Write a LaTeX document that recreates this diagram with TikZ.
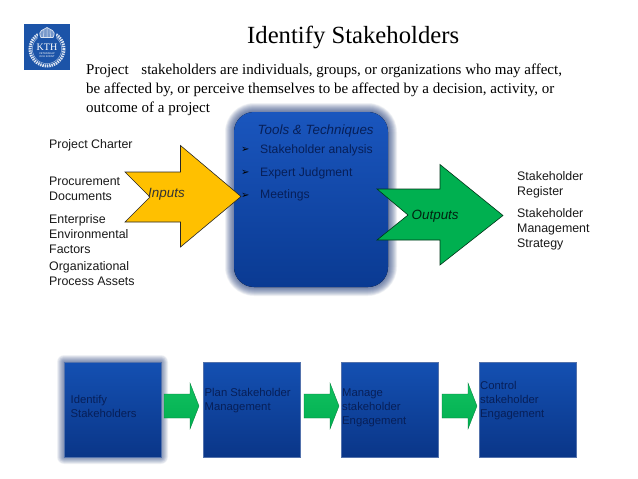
\documentclass[tikz,border=0pt]{standalone}
\usepackage{fontspec}
\setmainfont{Liberation Serif}
\setsansfont{Liberation Sans}
\newfontfamily\symfont{DejaVu Sans}
\usetikzlibrary{shapes.geometric}
\definecolor{boxtop}{HTML}{1A56BE}
\definecolor{boxbot}{HTML}{0A3A92}
\definecolor{smtop}{HTML}{1450B2}
\definecolor{smbot}{HTML}{0A3688}
\definecolor{navy}{HTML}{071F58}
\definecolor{glow}{HTML}{243F7C}
\definecolor{inarrow}{HTML}{FFC000}
\definecolor{outarrow}{HTML}{00B050}
\definecolor{smalltop}{HTML}{12C060}
\definecolor{kth}{HTML}{1C54A8}
\newcommand{\glowbox}[6]{%
  \foreach \g in {1,...,#6}{
    \pgfmathsetmacro{\gg}{\g*0.5}
    \pgfmathsetmacro{\rr}{#5+\gg}
    \fill[glow,opacity=0.05,rounded corners=\rr pt]
      (#1-\gg,#2-\gg) rectangle (#3+\gg,#4+\gg);
  }}
\tikzset{
  x=1pt,y=-1pt,
  lab/.style={anchor=base west,inner sep=0pt,font=\sffamily\fontsize{12.4}{15}\selectfont,align=left,text=black!90},
  body/.style={anchor=base west,inner sep=0pt,font=\fontsize{15}{15}\selectfont},
  toolt/.style={anchor=base west,inner sep=0pt,font=\sffamily\fontsize{12.2}{14}\selectfont,text=navy},
  bull/.style={anchor=base west,inner sep=0pt,font=\symfont\fontsize{10}{10}\selectfont,text=black},
  ital/.style={anchor=base west,inner sep=0pt,font=\sffamily\itshape\fontsize{13.4}{15}\selectfont},
  boxtxt/.style={anchor=base west,inner sep=0pt,font=\sffamily\fontsize{11.3}{14}\selectfont,align=left,text=navy},
  smallbox/.style={top color=smtop,bottom color=smbot,draw=smbot!70!white,line width=0.4pt},
  smallarr/.style={top color=smalltop,bottom color=outarrow,draw=outarrow!70!black,line width=0.3pt},
  logotiny/.style={anchor=base,inner sep=0pt,text=white,font=\sffamily\fontsize{2.6}{2.6}\selectfont},
}
\begin{document}
\begin{tikzpicture}
\useasboundingbox (0,0) rectangle (638,479);
\fill[white] (0,0) rectangle (638,479);
% logo
\fill[kth] (24,24) rectangle (70,70);
\draw[white!85!kth,line width=3pt,dash pattern=on 1.4pt off 0.9pt] (47,49) circle (17);
\draw[white!70!kth,line width=0.4pt] (47,49) circle (14.6);
\fill[kth] (38,28) rectangle (56,38.5);
\draw[white!85!kth,line width=0.7pt,fill=kth!60!white] (41,37.5) .. controls (37,30) and (44,30) .. (47,27.5) .. controls (50,30) and (57,30) .. (53,37.5) -- cycle;
\draw[white!85!kth,line width=0.5pt] (47,28) -- (47,37.5) (44,30) -- (43.5,37.5) (50,30) -- (50.5,37.5);
\node[anchor=base,inner sep=0pt,text=white,font=\fontsize{10}{10}\selectfont] (kthtxt) at (47,50) {KTH};
\node[logotiny] (k1) at (47,54) {VETENSKAP};
\node[logotiny] (k2) at (47,57.5) {OCH KONST};
% title
\node[anchor=base west,inner sep=0pt,font=\fontsize{24.7}{24.7}\selectfont] (title) at (247,43) {Identify Stakeholders};
\node[body] (l1) at (86,74) {Project\hspace{0.6em} stakeholders are individuals, groups, or organizations who may affect,};
\node[body] (l2) at (86,93) {be affected by, or perceive themselves to be affected by a decision, activity, or};
\node[body] (l3) at (86,112) {outcome of a project};
% tools box
\glowbox{234}{112}{388}{287}{20}{18}
\fill[top color=boxtop,bottom color=boxbot,rounded corners=20pt] (234,112) rectangle (388,287);
\node[ital,text=navy] (tt) at (257.5,134) {Tools \& Techniques};
\node[bull] (b1) at (241,152.5) {➢};
\node[toolt] (t1) at (260,153) {Stakeholder analysis};
\node[bull] (b2) at (241,175.5) {➢};
\node[toolt] (t2) at (260,176) {Expert Judgment};
\node[bull] (b3) at (241,198) {➢};
\node[toolt] (t3) at (260,198.5) {Meetings};
% input arrow
\draw[fill=inarrow,draw=black!85,line width=0.6pt,line join=miter]
  (125,172) -- (180.5,172) -- (180.5,145.5) -- (241,196.5) -- (180.5,247) -- (180.5,222) -- (125,222) -- (150,197) -- cycle;
\node[ital,text=black!80] (inp) at (148,197) {Inputs};
% output arrow
\draw[fill=outarrow,draw=black!70!outarrow,line width=0.6pt,line join=miter]
  (377,189) -- (440,189) -- (440,164.5) -- (503,215.5) -- (440,265) -- (440,240) -- (377,240) -- (408,215) -- cycle;
\node[ital,text=black!80!outarrow] (outp) at (411.5,219.5) {Outputs};
% left labels
\node[lab] (a) at (49,148) {Project Charter};
\node[lab] (b) at (49,200) {Procurement\\Documents};
\node[lab] (c) at (49,253) {Enterprise\\Environmental\\Factors};
\node[lab] (d) at (49,285.5) {Organizational\\Process Assets};
% right labels
\node[lab] (e) at (517,195) {Stakeholder\\Register};
\node[lab] (f) at (517,247) {Stakeholder\\Management\\Strategy};
% bottom boxes
\glowbox{64}{362}{161}{457}{0}{14}
\fill[smallbox] (64,362) rectangle (161,457);
\fill[smallbox] (203,362) rectangle (300,457);
\fill[smallbox] (341,362) rectangle (438,457);
\fill[smallbox] (479,362) rectangle (576,457);
\node[boxtxt] (s1) at (70.5,417) {Identify\\Stakeholders};
\node[boxtxt] (s2) at (204.5,410) {Plan Stakeholder\\Management};
\node[boxtxt] (s3) at (342,424) {Manage\\stakeholder\\Engagement};
\node[boxtxt] (s4) at (480,417) {Control\\stakeholder\\Engagement};
% small arrows
\foreach \dx in {164,304,442}{
  \draw[smallarr] (\dx,394) -- (\dx+26,394) -- (\dx+26,383) -- (\dx+35,406) -- (\dx+26,429) -- (\dx+26,418) -- (\dx,418) -- cycle;
}
\end{tikzpicture}
\end{document}
